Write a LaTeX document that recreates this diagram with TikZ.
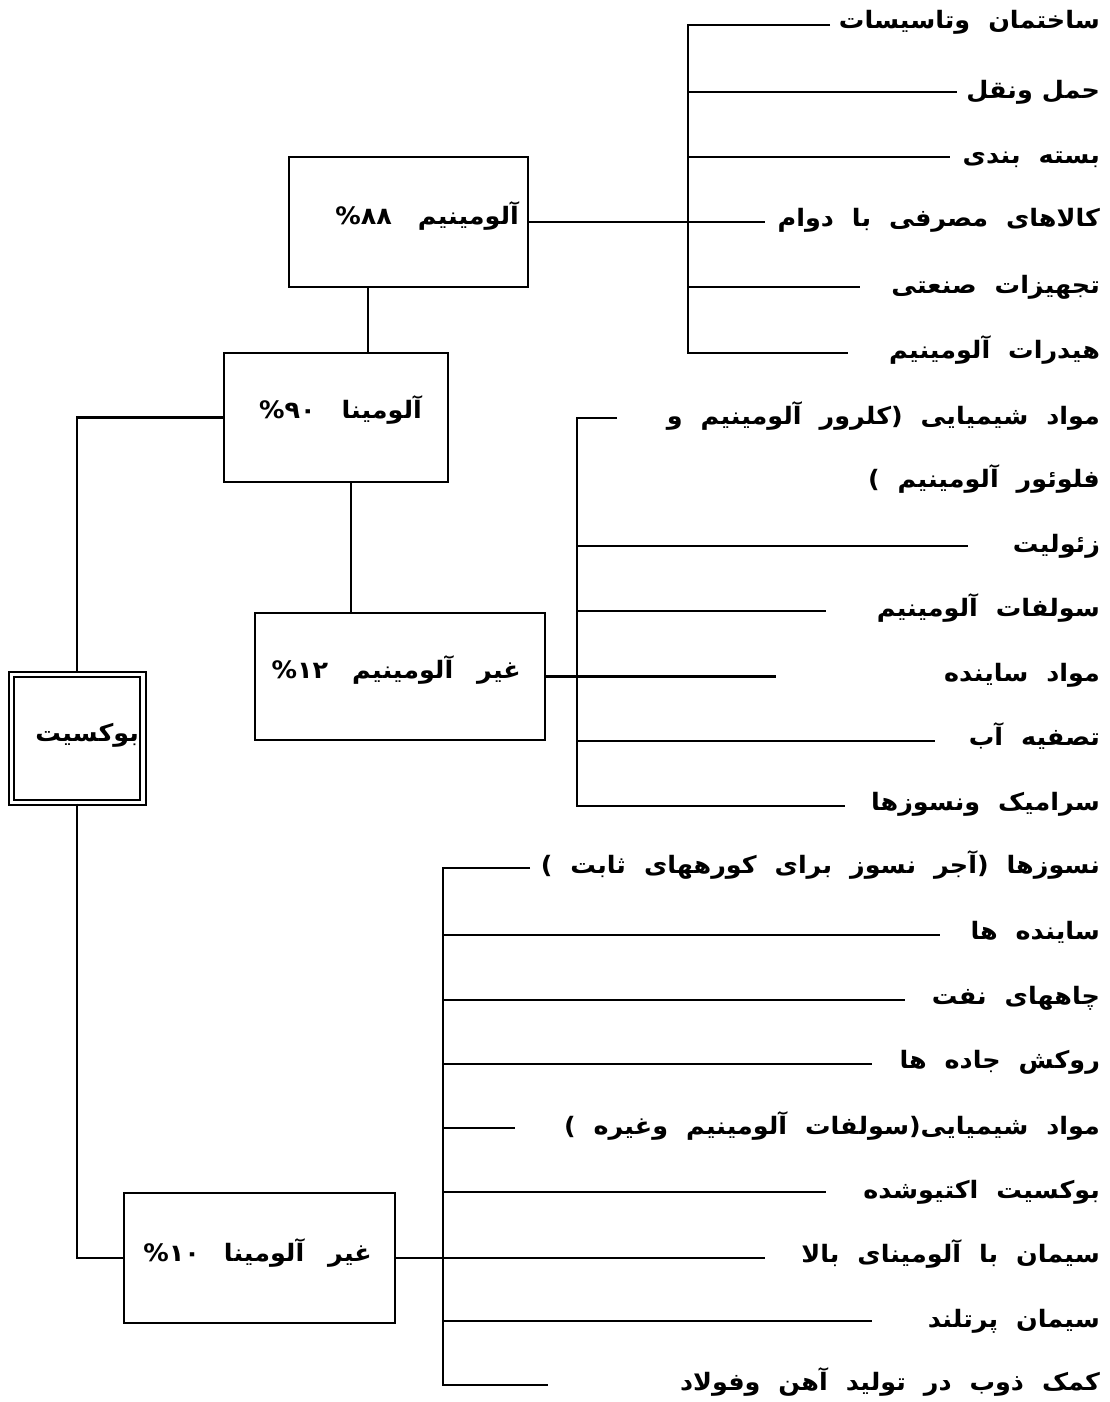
\documentclass[tikz,border=0pt]{standalone}
\usepackage{fontspec}
\TeXXeTstate=1
\newfontfamily\arabicfont[Script=Arabic,FakeStretch=1.06]{DejaVu Sans}
\newcommand{\fa}[1]{{\arabicfont\bfseries\spaceskip=18pt\relax\beginR #1\endR}}
\newcommand{\fan}[1]{{\arabicfont\bfseries\spaceskip=9pt\relax\beginR #1\endR}}
\newcommand{\pc}[1]{\beginL\%\kern0pt #1\endL}
\begin{document}
\begin{tikzpicture}[x=1pt,y=-1pt,line width=2.2pt,
  box/.style={draw,line width=2.2pt,inner sep=0pt},
  lbl/.style={inner sep=0pt,anchor=east,font=\fontsize{24}{28}\selectfont,text height=18pt,text depth=7pt}]
\fill[white] (0,0) rectangle (1109,1402);
\useasboundingbox (0,0) rectangle (1109,1402);
% boxes
\node[box,minimum width=239pt,minimum height=130pt] (alm) at (408.5,222) {};
\node[lbl] (almt) at (520,219) {\fa{آلومینیم\hspace{26pt}\pc{۸۸}}};
\node[box,minimum width=224pt,minimum height=129pt] (alu) at (336,417.5) {};
\node[lbl] (alut) at (423,413) {\fa{آلومینا\hspace{26pt}\pc{۹۰}}};
\node[box,minimum width=290pt,minimum height=127pt] (galm) at (400,676.5) {};
\node[lbl] (galmt) at (522,673) {\fa{غیر\hspace{24pt}آلومینیم\hspace{24pt}\pc{۱۲}}};
\node[box,minimum width=271pt,minimum height=130pt] (galu) at (259.5,1258) {};
\node[lbl] (galut) at (373,1256) {\fa{غیر\hspace{24pt}آلومینا\hspace{24pt}\pc{۱۰}}};
\node[draw,line width=2.2pt,double,double distance=3.5pt,inner sep=0pt,minimum width=131.5pt,minimum height=128pt] (baux) at (77.25,738.5) {};
\node[lbl] (bauxt) at (140,736) {\fa{بوکسیت}};
% bus coordinates
\coordinate (bus1) at (688,0);
\coordinate (bus2) at (577,0);
\coordinate (bus3) at (443,0);
\coordinate (v1) at (368,0);
\coordinate (v2) at (351,0);
% box connectors
\draw (alm.south -| v1) -- (alu.north -| v1);
\draw (alu.south -| v2) -- (galm.north -| v2);
\draw (alu.west) -| (baux.north);
\draw (baux.south) |- (galu.west);
\draw (alm.east) -- (alm.east -| bus1);
\draw (galm.east) -- (galm.east -| bus2);
\draw (galu.east) -- (galu.east -| bus3);
% bracket 1
\coordinate (a1) at (830,25);  \coordinate (a2) at (957,92);  \coordinate (a3) at (950,157);
\coordinate (a4) at (765,222); \coordinate (a5) at (860,287); \coordinate (a6) at (848,353);
\node[lbl] (t1) at (1101,23) {\fa{ساختمان وتاسیسات}};
\node[lbl] (t2) at (1101,93) {\fan{حمل ونقل}};
\node[lbl] (t3) at (1101,158) {\fa{بسته بندی}};
\node[lbl] (t4) at (1101,221) {\fa{کالاهای مصرفی با دوام}};
\node[lbl] (t5) at (1101,288) {\fa{تجهیزات صنعتی}};
\node[lbl] (t6) at (1101,353) {\fa{هیدرات آلومینیم}};
\draw (a1) -- (bus1 |- a1) -- (bus1 |- a6) -- (a6);
\foreach \i in {2,3,4,5} \draw (bus1 |- a\i) -- (a\i);
% bracket 2
\coordinate (b1) at (617,418); \coordinate (b3) at (968,546); \coordinate (b4) at (826,611);
\coordinate (b5) at (776,676.5); \coordinate (b6) at (935,741); \coordinate (b7) at (845,806);
\node[lbl] (u1) at (1101,419) {\fa{مواد شیمیایی (کلرور آلومینیم و}};
\node[lbl] (u2) at (1101,482) {\fa{فلوئور آلومینیم )}};
\node[lbl] (u3) at (1101,547) {\fa{زئولیت}};
\node[lbl] (u4) at (1101,611) {\fa{سولفات آلومینیم}};
\node[lbl] (u5) at (1101,676) {\fa{مواد ساینده}};
\node[lbl] (u6) at (1101,740) {\fa{تصفیه آب}};
\node[lbl] (u7) at (1101,805) {\fa{سرامیک ونسوزها}};
\draw (b1) -- (bus2 |- b1) -- (bus2 |- b7) -- (b7);
\foreach \i in {3,4,5,6} \draw (bus2 |- b\i) -- (b\i);
% bracket 3
\coordinate (c1) at (530,868); \coordinate (c2) at (940,935); \coordinate (c3) at (905,1000);
\coordinate (c4) at (872,1064); \coordinate (c5) at (515,1128); \coordinate (c6) at (826,1192);
\coordinate (c7) at (765,1258); \coordinate (c8) at (872,1321); \coordinate (c9) at (548,1385);
\node[lbl] (w1) at (1101,868) {\fa{نسوزها (آجر نسوز برای کورههای ثابت )}};
\node[lbl] (w2) at (1101,934) {\fa{ساینده ها}};
\node[lbl] (w3) at (1101,999) {\fa{چاههای نفت}};
\node[lbl] (w4) at (1101,1063) {\fa{روکش جاده ها}};
\node[lbl] (w5) at (1101,1129) {\fa{مواد شیمیایی(سولفات آلومینیم وغیره )}};
\node[lbl] (w6) at (1101,1193) {\fa{بوکسیت اکتیوشده}};
\node[lbl] (w7) at (1101,1257) {\fa{سیمان با آلومینای بالا}};
\node[lbl] (w8) at (1101,1322) {\fa{سیمان پرتلند}};
\node[lbl] (w9) at (1101,1385) {\fa{کمک ذوب در تولید آهن وفولاد}};
\draw (c1) -- (bus3 |- c1) -- (bus3 |- c9) -- (c9);
\foreach \i in {2,3,4,5,6,7,8} \draw (bus3 |- c\i) -- (c\i);
\end{tikzpicture}
\end{document}
